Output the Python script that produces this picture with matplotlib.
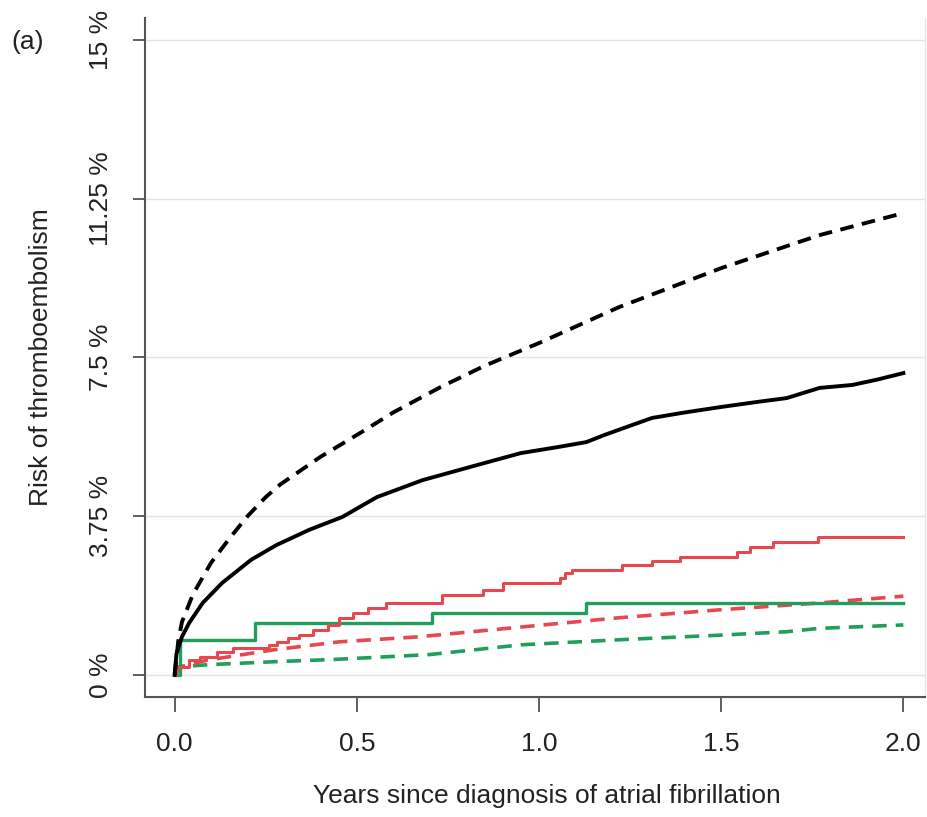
import matplotlib
matplotlib.use("Agg")
import matplotlib.pyplot as plt

plt.rcParams["font.family"] = ["Liberation Sans", "DejaVu Sans"]

# ============================================================
# データ (読み取り値, %)
# ============================================================

# 黒 破線
black_dash_x = [0, 0.01, 0.02, 0.05, 0.1, 0.15, 0.2, 0.25, 0.29, 0.4, 0.51, 0.6,
                0.73, 0.85, 1.0, 1.22, 1.5, 1.77, 2.0]
black_dash_y = [0, 0.8, 1.25, 1.9, 2.65, 3.22, 3.75, 4.2, 4.5, 5.15, 5.72, 6.2,
                6.8, 7.3, 7.84, 8.69, 9.61, 10.39, 10.91]

# 黒 実線
black_x = [0, 0.005, 0.02, 0.04, 0.077, 0.13, 0.21, 0.28, 0.37, 0.46, 0.555,
           0.68, 0.81, 0.95, 1.05, 1.13, 1.18, 1.31, 1.4, 1.5, 1.6, 1.68, 1.77,
           1.86, 1.93, 2.0]
black_y = [0, 0.5, 0.9, 1.23, 1.7, 2.17, 2.72, 3.07, 3.43, 3.73, 4.2,
           4.6, 4.91, 5.24, 5.38, 5.5, 5.67, 6.07, 6.2, 6.33, 6.45, 6.54, 6.78,
           6.85, 6.98, 7.13]

# 赤 実線 (階段)
red_x = [0, 0.005, 0.04, 0.07, 0.115, 0.16, 0.26, 0.28, 0.31, 0.34, 0.38, 0.42,
         0.45, 0.49, 0.53, 0.58, 0.734, 0.846, 0.901, 1.058, 1.071, 1.091, 1.228,
         1.310, 1.387, 1.544, 1.580, 1.643, 1.766, 2.0]
red_y = [0, 0.19, 0.35, 0.43, 0.54, 0.64, 0.71, 0.78, 0.87, 0.94, 1.06, 1.18,
         1.35, 1.46, 1.58, 1.70, 1.89, 2.0, 2.17, 2.3, 2.4, 2.48, 2.6,
         2.7, 2.79, 2.9, 3.03, 3.15, 3.25, 3.25]

# 赤 破線
red_dash_x = [0, 0.02, 0.09, 0.27, 0.45, 0.67, 0.95, 1.22, 1.5, 1.77, 2.0]
red_dash_y = [0, 0.2, 0.35, 0.59, 0.78, 0.90, 1.13, 1.35, 1.54, 1.70, 1.86]

# 緑 実線 (階段)
green_x = [0, 0.015, 0.22, 0.706, 1.13, 2.0]
green_y = [0, 0.83, 1.23, 1.46, 1.70, 1.70]

# 緑 破線
green_dash_x = [0, 0.01, 0.09, 0.27, 0.45, 0.7, 0.95, 1.22, 1.5, 1.68, 1.77, 2.0]
green_dash_y = [0, 0.19, 0.24, 0.31, 0.37, 0.48, 0.71, 0.83, 0.94, 1.02, 1.1, 1.18]

y_ticks = [0, 3.75, 7.5, 11.25, 15]
y_tick_labels = ["0 %", "3.75 %", "7.5 %", "11.25 %", "15 %"]
x_ticks = [0.0, 0.5, 1.0, 1.5, 2.0]
x_tick_labels = ["0.0", "0.5", "1.0", "1.5", "2.0"]

RED = "#e5484f"
GREEN = "#1f9e5c"
TEXT = "#222222"

# ============================================================
# 描画
# ============================================================

fig = plt.figure(figsize=(9.28, 8.17), dpi=100)
ax = fig.add_axes([0.156, 0.147, 0.841, 0.831])

for y in y_ticks:
    ax.axhline(y, color="#e3e3e3", lw=1.0, zorder=0)

ax.plot(green_dash_x, green_dash_y, color=GREEN, lw=2.6, ls=(0, (4, 2.5)))
ax.plot(red_dash_x, red_dash_y, color=RED, lw=2.6, ls=(0, (4, 2.5)))
ax.plot(green_x, green_y, color=GREEN, lw=2.4, drawstyle="steps-post")
ax.plot(red_x, red_y, color=RED, lw=2.2, drawstyle="steps-post")
ax.plot(black_x, black_y, color="black", lw=2.8)
ax.plot(black_dash_x, black_dash_y, color="black", lw=2.8, ls=(0, (3.5, 2.2)))

ax.set_xlim(-0.082, 2.06)
ax.set_ylim(-0.52, 15.52)

ax.set_xticks(x_ticks)
ax.set_xticklabels(x_tick_labels)
ax.set_yticks(y_ticks)
ax.set_yticklabels(y_tick_labels, rotation=90, va="center")

ax.tick_params(axis="x", length=11, width=1.2, color="#444444", pad=14,
               labelsize=19, labelcolor=TEXT)
ax.tick_params(axis="y", length=9, width=1.2, color="#444444", pad=14,
               labelsize=19, labelcolor=TEXT)

for side in ["left", "bottom"]:
    ax.spines[side].set_color("#555555")
    ax.spines[side].set_linewidth(1.5)
ax.spines["top"].set_visible(False)
ax.spines["right"].set_color("#e6e6e6")
ax.spines["right"].set_linewidth(1.0)

ax.set_xlabel("Years since diagnosis of atrial fibrillation", fontsize=19,
              color=TEXT)
ax.xaxis.set_label_coords(0.515, -0.128)
ax.set_ylabel("Risk of thromboembolism", fontsize=19, color=TEXT, labelpad=26)

fig.text(0.012, 0.948, "(a)", fontsize=19, color=TEXT, va="center")

fig.savefig("out.png", dpi=100)
